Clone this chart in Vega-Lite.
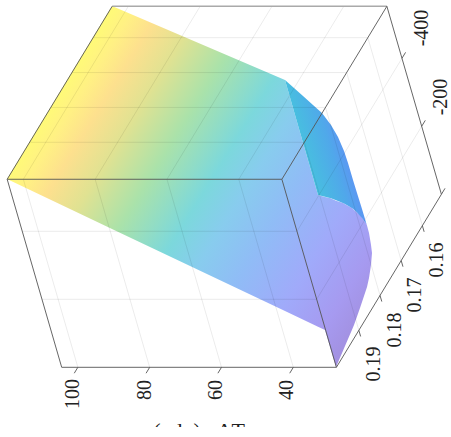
{
"$schema":"https://vega.github.io/schema/vega-lite/v6.json",
"width":451,"height":427,"padding":0,"autosize":{"type":"none"},"background":"white",
"view":{"stroke":null},
"datasets":{
"main":[
{"u":7,"v":179,"v2":179},{"u":112,"v":6,"v2":228.9},{"u":285,"v":80,"v2":311},{"u":318,"v":195,"v2":326.7},{"u":325,"v":197,"v2":330},{"u":330,"v":198,"v2":346.8},{"u":336,"v":200.8,"v2":367},{"u":343,"v":203,"v2":350.7},{"u":345,"v":204.2,"v2":346},{"u":352,"v":208,"v2":329.7},{"u":354,"v":210,"v2":325},{"u":360,"v":215,"v2":307.9},{"u":361,"v":216,"v2":305},{"u":366.5,"v":224,"v2":288.5},{"u":367,"v":225.5,"v2":287},{"u":369,"v":233,"v2":278},{"u":370.7,"v":243,"v2":267},{"u":371,"v":245,"v2":265},{"u":372,"v":253,"v2":253}],
"strip":[
{"u":285,"v":80,"v2":80},{"u":303,"v":96,"v2":142.7},{"u":318,"v":109.4,"v2":195},{"u":322,"v":113,"v2":196},{"u":331,"v":125,"v2":198.2},{"u":338,"v":137,"v2":201},{"u":344,"v":151,"v2":203.6},{"u":348,"v":163,"v2":205.7},{"u":353,"v":180,"v2":208.8},{"u":357,"v":193,"v2":212.4},{"u":362,"v":209,"v2":218},{"u":366.5,"v":224,"v2":224}],
"grid":[
{"id":"ta40","a":40,"b":0.151,"c":-553},{"id":"ta40","a":40,"b":0.2006,"c":-553},
{"id":"ta60","a":60,"b":0.151,"c":-553},{"id":"ta60","a":60,"b":0.2006,"c":-553},
{"id":"ta80","a":80,"b":0.151,"c":-553},{"id":"ta80","a":80,"b":0.2006,"c":-553},
{"id":"ta100","a":100,"b":0.151,"c":-553},{"id":"ta100","a":100,"b":0.2006,"c":-553},
{"id":"tb16","a":28,"b":0.16,"c":-553},{"id":"tb16","a":104.5,"b":0.16,"c":-553},
{"id":"tb17","a":28,"b":0.17,"c":-553},{"id":"tb17","a":104.5,"b":0.17,"c":-553},
{"id":"tb18","a":28,"b":0.18,"c":-553},{"id":"tb18","a":104.5,"b":0.18,"c":-553},
{"id":"tb19","a":28,"b":0.19,"c":-553},{"id":"tb19","a":104.5,"b":0.19,"c":-553},
{"id":"fa40","a":40,"b":0.2006,"c":-553},{"id":"fa40","a":40,"b":0.2006,"c":0},
{"id":"fa60","a":60,"b":0.2006,"c":-553},{"id":"fa60","a":60,"b":0.2006,"c":0},
{"id":"fa80","a":80,"b":0.2006,"c":-553},{"id":"fa80","a":80,"b":0.2006,"c":0},
{"id":"fa100","a":100,"b":0.2006,"c":-553},{"id":"fa100","a":100,"b":0.2006,"c":0},
{"id":"fc400","a":28,"b":0.2006,"c":-400},{"id":"fc400","a":104.5,"b":0.2006,"c":-400},
{"id":"fc200","a":28,"b":0.2006,"c":-200},{"id":"fc200","a":104.5,"b":0.2006,"c":-200},
{"id":"rb16","a":28,"b":0.16,"c":-553},{"id":"rb16","a":28,"b":0.16,"c":0},
{"id":"rb17","a":28,"b":0.17,"c":-553},{"id":"rb17","a":28,"b":0.17,"c":0},
{"id":"rb18","a":28,"b":0.18,"c":-553},{"id":"rb18","a":28,"b":0.18,"c":0},
{"id":"rb19","a":28,"b":0.19,"c":-553},{"id":"rb19","a":28,"b":0.19,"c":0},
{"id":"rc400","a":28,"b":0.151,"c":-400},{"id":"rc400","a":28,"b":0.2006,"c":-400},
{"id":"rc200","a":28,"b":0.151,"c":-200},{"id":"rc200","a":28,"b":0.2006,"c":-200}],
"box":[
{"id":"e1","a":104.5,"b":0.2006,"c":-553},{"id":"e1","a":104.5,"b":0.151,"c":-553},
{"id":"e2","a":104.5,"b":0.2006,"c":-553},{"id":"e2","a":28,"b":0.2006,"c":-553},
{"id":"e3","a":28,"b":0.2006,"c":-553},{"id":"e3","a":28,"b":0.151,"c":-553},
{"id":"e4","a":28,"b":0.2006,"c":-553},{"id":"e4","a":28,"b":0.2006,"c":0},
{"id":"e5","a":104.5,"b":0.2006,"c":-553},{"id":"e5","a":104.5,"b":0.2006,"c":0},
{"id":"e6","a":104.5,"b":0.2006,"c":0},{"id":"e6","a":28,"b":0.2006,"c":0},
{"id":"e7","a":28,"b":0.2006,"c":0},{"id":"e7","a":28,"b":0.151,"c":0},
{"id":"e8","a":28,"b":0.151,"c":-553},{"id":"e8","a":28,"b":0.151,"c":0},
{"id":"ta40","a":40,"b":0.2006,"c":0},{"id":"ta40","a":40,"b":0.2023,"c":0},
{"id":"ta60","a":60,"b":0.2006,"c":0},{"id":"ta60","a":60,"b":0.2023,"c":0},
{"id":"ta80","a":80,"b":0.2006,"c":0},{"id":"ta80","a":80,"b":0.2023,"c":0},
{"id":"ta100","a":100,"b":0.2006,"c":0},{"id":"ta100","a":100,"b":0.2023,"c":0},
{"id":"tb16","a":28,"b":0.16,"c":0},{"id":"tb16","a":28,"b":0.16,"c":18},
{"id":"tb17","a":28,"b":0.17,"c":0},{"id":"tb17","a":28,"b":0.17,"c":18},
{"id":"tb18","a":28,"b":0.18,"c":0},{"id":"tb18","a":28,"b":0.18,"c":18},
{"id":"tb19","a":28,"b":0.19,"c":0},{"id":"tb19","a":28,"b":0.19,"c":18},
{"id":"tc400","a":28,"b":0.151,"c":-400},{"id":"tc400","a":28,"b":0.1493,"c":-400},
{"id":"tc200","a":28,"b":0.151,"c":-200},{"id":"tc200","a":28,"b":0.1493,"c":-200},
{"id":"tc0","a":28,"b":0.151,"c":0},{"id":"tc0","a":28,"b":0.1493,"c":0}],
"topedge":[{"id":"t","a":104.5,"b":0.151,"c":-553},{"id":"t","a":28,"b":0.151,"c":-553}],
"labels":[
{"t":"100","u":73,"v":394},{"t":"80","u":145,"v":390},{"t":"60","u":216,"v":390},{"t":"40","u":287,"v":390},
{"t":"0.19","u":374,"v":364},{"t":"0.18","u":395,"v":330},{"t":"0.17","u":415,"v":295},{"t":"0.16","u":437,"v":260},
{"t":"-400","u":422,"v":28},{"t":"-200","u":441,"v":97}],
"title":[{"t":"(gdq)\u00a0\u00a0\u00a0ΔT","u":199,"v":438}]
},
"encoding":{
"x":{"field":"u","type":"quantitative","scale":{"domain":[0,451],"range":[0,451],"nice":false,"zero":false},"axis":null},
"y":{"field":"v","type":"quantitative","scale":{"domain":[0,427],"range":[0,427],"nice":false,"zero":false,"clamp":false},"axis":null}
},
"layer":[
{"data":{"name":"main"},
 "mark":{"type":"area","orient":"vertical","color":{"gradient":"linear","x1":0,"y1":0.479,"x2":0.888,"y2":1.022,"stops":[
 {"offset":0,"color":"#fffa78"},{"offset":0.05,"color":"#fff084"},{"offset":0.11,"color":"#fde08e"},{"offset":0.2,"color":"#e0e292"},{"offset":0.32,"color":"#aae2aa"},{"offset":0.46,"color":"#7cd8dc"},{"offset":0.55,"color":"#88ccee"},{"offset":0.66,"color":"#90bcf6"},{"offset":0.8,"color":"#a0aafa"},{"offset":0.92,"color":"#a69af0"},{"offset":1,"color":"#a290e0"}]}},
 "encoding":{"y2":{"field":"v2"}}},
{"data":{"name":"strip"},
 "mark":{"type":"area","orient":"vertical","color":{"gradient":"linear","x1":0.22,"y1":0.42,"x2":0.72,"y2":0.16,"stops":[
 {"offset":0,"color":"#48bee0"},{"offset":0.5,"color":"#50a8ea"},{"offset":1,"color":"#6688fa"}]}},
 "encoding":{"y2":{"field":"v2"}}},
{"data":{"name":"grid"},
 "transform":[{"calculate":"61.7+(104.5-datum.a)*3.591+(0.2006-datum.b)*2117+datum.c*0.0986","as":"u"},{"calculate":"367.3+(datum.b-0.2006)*3488+datum.c*0.34","as":"v"}],
 "mark":{"type":"line","stroke":"#000000","strokeWidth":0.8,"opacity":0.1},
 "encoding":{"detail":{"field":"id"},"order":{"field":"a"}}},
{"data":{"name":"topedge"},
 "transform":[{"calculate":"61.7+(104.5-datum.a)*3.591+(0.2006-datum.b)*2117+datum.c*0.0986","as":"u"},{"calculate":"367.3+(datum.b-0.2006)*3488+datum.c*0.34","as":"v"}],
 "mark":{"type":"line","stroke":"#aaaaaa","strokeWidth":1.6},
 "encoding":{"detail":{"field":"id"}}},
{"data":{"name":"box"},
 "transform":[{"calculate":"61.7+(104.5-datum.a)*3.591+(0.2006-datum.b)*2117+datum.c*0.0986","as":"u"},{"calculate":"367.3+(datum.b-0.2006)*3488+datum.c*0.34","as":"v"},{"window":[{"op":"row_number","as":"n"}]}],
 "mark":{"type":"line","stroke":"#555555","strokeWidth":0.9},
 "encoding":{"detail":{"field":"id"},"order":{"field":"n","type":"quantitative"}}},
{"data":{"name":"labels"},
 "mark":{"type":"text","font":"Liberation Serif","fontSize":20,"angle":270,"align":"center","baseline":"middle","color":"#222222"},
 "encoding":{"text":{"field":"t"}}},
{"data":{"name":"title"},
 "mark":{"type":"text","font":"Liberation Serif","fontSize":22,"align":"center","baseline":"alphabetic","color":"#222222","clip":true},
 "encoding":{"text":{"field":"t"}}}
]
}
